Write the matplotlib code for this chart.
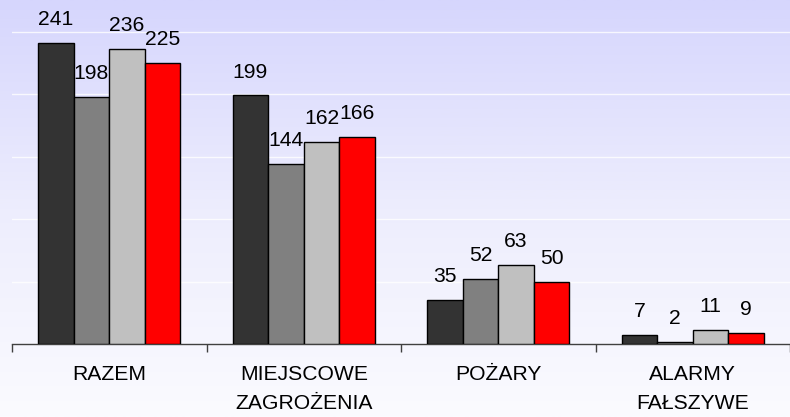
import numpy as np
import matplotlib.pyplot as plt
from matplotlib.colors import LinearSegmentedColormap

categories = ["RAZEM", "MIEJSCOWE\nZAGROŻENIA", "POŻARY", "ALARMY\nFAŁSZYWE"]
series = [
    [241, 199, 35, 7],
    [198, 144, 52, 2],
    [236, 162, 63, 11],
    [225, 166, 50, 9],
]
colors = ["#333333", "#808080", "#c0c0c0", "#ff0000"]

plt.rcParams['font.family'] = ['Liberation Sans', 'DejaVu Sans']

fig = plt.figure(figsize=(7.9, 4.17), dpi=100)

# gradient background over whole figure
bg = fig.add_axes([0, 0, 1, 1], zorder=-1)
cmap = LinearSegmentedColormap.from_list("bg", ["#fbfbff", "#ededfd", "#d6d6fd"])
grad = np.linspace(0, 1, 256).reshape(-1, 1)
bg.imshow(grad, aspect="auto", cmap=cmap, origin="lower", extent=[0, 1, 0, 1])
bg.axis("off")

ax = fig.add_axes([12 / 790, 1 - 344 / 417, 778 / 790, 344 / 417])
ax.patch.set_alpha(0)

x = np.arange(len(categories))
w = 36 / 197
for i, vals in enumerate(series):
    pos = x + (i - 1.5) * w
    ax.bar(pos, vals, width=w, color=colors[i], edgecolor="black", linewidth=1.0, zorder=3)
    for p, v in zip(pos, vals):
        ax.annotate(str(v), (p, v), xytext=(0, 10), textcoords="offset points",
                    ha="center", va="bottom", fontsize=15.2)

ax.set_xlim(-0.5, 778 / 197 - 0.5)
ax.set_ylim(0, 344 / 1.249)
ax.set_yticks([50, 100, 150, 200, 250])
ax.yaxis.grid(True, color="white", linewidth=1.0, alpha=0.8, zorder=0)
ax.tick_params(axis="y", left=False, labelleft=False)

ax.set_xticks(np.arange(-0.5, 4, 1))
ax.set_xticklabels([])
ax.tick_params(axis="x", which="major", length=6, width=1, color="#404040", direction="out")
ax.set_xticks(x, minor=True)
ax.set_xticklabels(categories, minor=True, fontsize=15.2, linespacing=1.65)
ax.tick_params(axis="x", which="minor", length=0, pad=15)

for s in ["top", "right", "left"]:
    ax.spines[s].set_visible(False)
ax.spines["bottom"].set_color("#404040")
ax.spines["bottom"].set_linewidth(1)

fig.savefig("out.png", dpi=100)
